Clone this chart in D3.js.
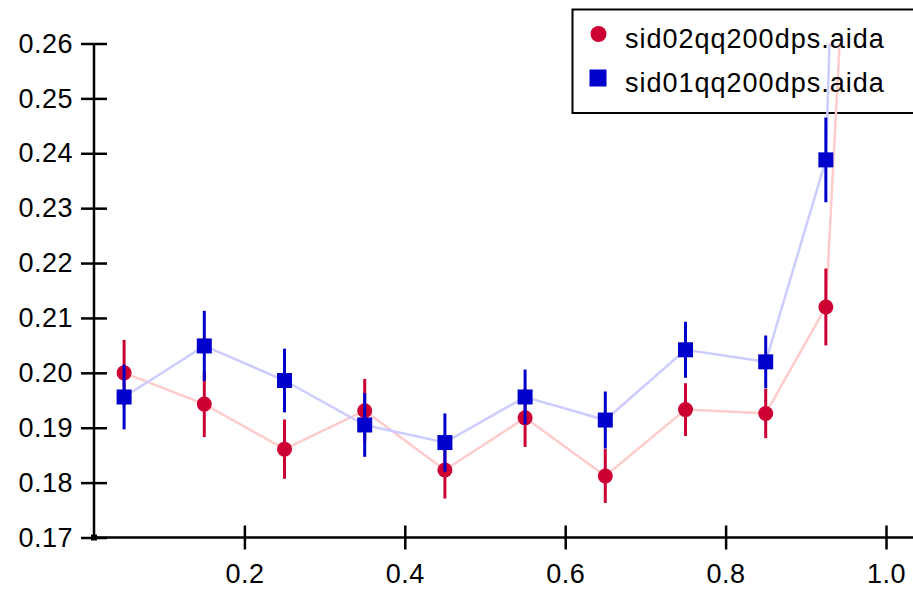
<!DOCTYPE html>
<html>
<head>
<meta charset="utf-8">
<script src="https://cdn.jsdelivr.net/npm/d3@7"></script>
<style>
  body { margin: 0; background: #fff; }
  svg text { font-family: "Liberation Sans", Arial, sans-serif; fill: #000; }
</style>
</head>
<body>
<div id="chart"></div>
<script>
// bin centres on the x axis
var xBins = [0.05, 0.15, 0.25, 0.35, 0.45, 0.55, 0.65, 0.75, 0.85, 0.925, 0.975];
// sid02qq200dps.aida (red circles)
var sid02 = [0.2000, 0.1943, 0.1861, 0.1931, 0.1823, 0.1918, 0.1812, 0.1933, 0.1926, 0.2120, 0.352];
var sid02Err = [0.0060, 0.0060, 0.0054, 0.0058, 0.0052, 0.0053, 0.0049, 0.0048, 0.0045, 0.0070, 0.020];
// sid01qq200dps.aida (blue squares)
var sid01 = [0.1956, 0.2049, 0.1986, 0.1905, 0.1873, 0.1956, 0.1914, 0.2042, 0.2020, 0.2388, 0.469];
var sid01Err = [0.0059, 0.0064, 0.0058, 0.0058, 0.0053, 0.0050, 0.0052, 0.0051, 0.0048, 0.0077, 0.030];
// tick labels
var xTicks = [0.2, 0.4, 0.6, 0.8, 1.0];
var yTicks = [0.17, 0.18, 0.19, 0.20, 0.21, 0.22, 0.23, 0.24, 0.25, 0.26];
var seriesNames = ["sid02qq200dps.aida", "sid01qq200dps.aida"];

var W = 913, H = 589;
var plotLeft = 94, plotRight = 913, plotTop = 43.5, plotBottom = 537.5;

var x = d3.scaleLinear().domain([0, 1.0]).range([84, 886]);
var y = d3.scaleLinear().domain([0.17, 0.26]).range([plotBottom, plotTop]);

var svg = d3.select("#chart").append("svg")
  .attr("width", W).attr("height", H);

svg.append("defs").append("clipPath").attr("id", "plotclip")
  .append("rect")
  .attr("x", plotLeft).attr("y", plotTop)
  .attr("width", plotRight - plotLeft).attr("height", plotBottom - plotTop);

// legend box (no fill, the lines run through it)
svg.append("rect")
  .attr("x", 572.5).attr("y", 9.5).attr("width", 360).attr("height", 103.5)
  .attr("fill", "none").attr("stroke", "#000").attr("stroke-width", 2);

// axes
var yAxis = d3.axisLeft(y).tickValues(yTicks).tickSize(13).tickPadding(8)
  .tickFormat(d3.format(".2f"));
var gy = svg.append("g").attr("transform", "translate(" + plotLeft + ",0)").call(yAxis);
gy.select(".domain").remove();
gy.selectAll(".tick line").attr("x2", -13).attr("x1", 13).attr("stroke-width", 2.5);
gy.selectAll(".tick text").style("font-size", "27px").style("letter-spacing", "0.5px")
  .attr("x", -21);
svg.append("line")
  .attr("x1", plotLeft).attr("x2", plotLeft).attr("y1", plotTop).attr("y2", plotBottom)
  .attr("stroke", "#000").attr("stroke-width", 2.5);

var xAxis = d3.axisBottom(x).tickValues(xTicks).tickSize(12).tickPadding(14)
  .tickFormat(d3.format(".1f"));
var gx = svg.append("g").attr("transform", "translate(0," + plotBottom + ")").call(xAxis);
gx.select(".domain").remove();
gx.selectAll(".tick line").attr("y1", -12).attr("y2", 12).attr("stroke-width", 2.5);
gx.selectAll(".tick text").style("font-size", "27px").style("letter-spacing", "0.5px");
svg.append("line")
  .attr("x1", plotLeft).attr("x2", plotRight).attr("y1", plotBottom).attr("y2", plotBottom)
  .attr("stroke", "#000").attr("stroke-width", 2.5);
// little square at the origin
svg.append("rect").attr("x", plotLeft - 3).attr("y", plotBottom - 3)
  .attr("width", 6).attr("height", 6).attr("fill", "#000");

// the data
var plot = svg.append("g").attr("clip-path", "url(#plotclip)");

function drawSeries(vals, errs, lineColor, markColor, shape) {
  var pts = xBins.map(function(d, i) { return {x: d, y: vals[i], e: errs[i]}; });
  var line = d3.line().x(function(d) { return x(d.x); }).y(function(d) { return y(d.y); });
  plot.append("path").datum(pts)
    .attr("d", line).attr("fill", "none")
    .attr("stroke", lineColor).attr("stroke-width", 2.5);
  plot.selectAll(null).data(pts).enter().append("line")
    .attr("x1", function(d) { return x(d.x); }).attr("x2", function(d) { return x(d.x); })
    .attr("y1", function(d) { return y(d.y - d.e); }).attr("y2", function(d) { return y(d.y + d.e); })
    .attr("stroke", markColor).attr("stroke-width", 3);
  if (shape == "circle") {
    plot.selectAll(null).data(pts).enter().append("circle")
      .attr("cx", function(d) { return x(d.x); }).attr("cy", function(d) { return y(d.y); })
      .attr("r", 7.5).attr("fill", markColor);
  } else {
    plot.selectAll(null).data(pts).enter().append("rect")
      .attr("x", function(d) { return x(d.x) - 7.5; }).attr("y", function(d) { return y(d.y) - 7.5; })
      .attr("width", 15).attr("height", 15).attr("fill", markColor);
  }
}

drawSeries(sid02, sid02Err, "#ffcccc", "#cc0033", "circle");
drawSeries(sid01, sid01Err, "#ccccff", "#0000cc", "square");

// legend entries
svg.append("circle").attr("cx", 598.5).attr("cy", 34).attr("r", 8).attr("fill", "#cc0033");
svg.append("rect").attr("x", 589.5).attr("y", 69.5).attr("width", 17).attr("height", 17).attr("fill", "#0000cc");
svg.selectAll(".legtext").data(seriesNames).enter().append("text")
  .attr("class", "legtext")
  .attr("x", 625).attr("y", function(d, i) { return 48 + i * 44; })
  .style("font-size", "27px").style("letter-spacing", "1px")
  .text(function(d) { return d; });
</script>
</body>
</html>
